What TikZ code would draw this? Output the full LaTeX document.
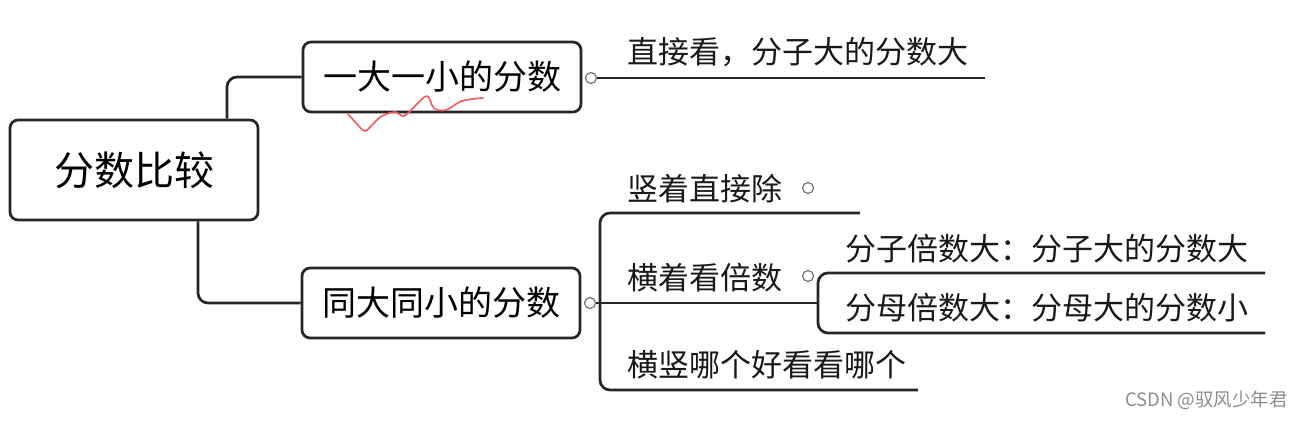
\documentclass[tikz,border=0pt]{standalone}
\usepackage{fontspec}
\newfontfamily\cjk{Noto Sans CJK SC}
\begin{document}
\begin{tikzpicture}[x=1pt,y=-1pt,
  conn/.style={line width=2.7pt, rounded corners=10pt, color=black!85},
  boxnode/.style={draw=black!85, line width=2.7pt, rounded corners=8pt, inner sep=0pt, fill=white},
  dot/.style={circle, draw=black!55, fill=white, line width=1.2pt, inner sep=0pt, minimum size=11pt},
  lbl/.style={anchor=west, inner sep=0pt, text=black!90, font=\cjk\fontsize{31}{31}\selectfont}]
\useasboundingbox (0,0) rectangle (1300,420);
\fill[white] (0,0) rectangle (1300,420);
% coordinates
\coordinate (c1) at (227,0);
\coordinate (c2) at (198,0);
% boxes
\node[boxnode, minimum width=248pt, minimum height=100pt, font=\cjk\fontsize{40}{40}\selectfont] (root) at (134,170) {分数比较};
\node[boxnode, minimum width=278pt, minimum height=70pt, font=\cjk\fontsize{34}{34}\selectfont] (b1) at (442,77) {一大一小的分数};
\node[boxnode, minimum width=278pt, minimum height=70pt, font=\cjk\fontsize{34}{34}\selectfont] (b2) at (441,303) {同大同小的分数};
% connectors root
\draw[conn] (root.north -| c1) |- (b1.west);
\draw[conn] (root.south -| c2) |- (b2.west);
% branch 1
\node[dot] (d1) at (591,78) {};
\coordinate (e1) at (985,78);
\draw[conn] (d1.east) -- (e1);
\node[lbl] (t1) at (627,52) {直接看，分子大的分数大};
% branch 2
\node[dot] (d2) at (590,303) {};
\coordinate (m1) at (860,213);
\coordinate (m2) at (600,390);
\coordinate (m3) at (918,390);
\coordinate (sj) at (818,303);
\draw[conn] (m1) -| (m2) -- (m3);
\draw[conn] (d2.east) -- (sj);
\coordinate (s1) at (1265,273);
\coordinate (s2) at (818,333);
\coordinate (s3) at (1265,333);
\draw[conn] (s1) -| (s2) -- (s3);
\node[lbl] (t2) at (627,189) {竖着直接除};
\node[dot] (d3) at (808,188) {};
\node[lbl] (t3) at (627,278) {横着看倍数};
\node[dot] (d4) at (808,276) {};
\node[lbl] (t4) at (627,365) {横竖哪个好看看哪个};
\node[lbl] (t5) at (845,249) {分子倍数大：分子大的分数大};
\node[lbl] (t6) at (845,308) {分母倍数大：分母大的分数小};
% red handwritten squiggle
\draw[color={rgb,255:red,240;green,90;blue,90}, line width=1.6pt, line cap=round, line join=round]
  plot[smooth, tension=0.6] coordinates {(348,114) (357,124) (365,131) (373,124) (382,116) (395,112) (404,116) (415,106) (427,96) (434,108) (446,110) (462,101) (483,98)};
% watermark
\node[anchor=east, inner sep=0pt, text=black!45, font=\cjk\fontsize{18.5}{18.5}\selectfont] (wm) at (1288,400) {CSDN @驭风少年君};
\end{tikzpicture}
\end{document}
